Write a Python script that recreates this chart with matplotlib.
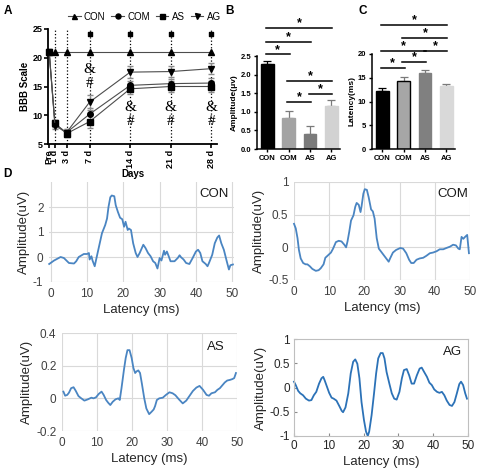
import numpy as np
import matplotlib
matplotlib.use("Agg")
import matplotlib.pyplot as plt

plt.rcParams['font.family'] = ['Liberation Sans', 'DejaVu Sans']

# ---------------- data ----------------
# A: BBB score over days
days = [0, 1, 3, 7, 14, 21, 28]
day_labels = ["Pre", "1 d", "3 d", "7 d", "14 d", "21 d", "28 d"]
bbb_con = [21, 21, 21, 21, 21, 21, 21]
bbb_com = [21, 8.5, 7.0, 10.2, 15.2, 15.5, 15.6]
bbb_as = [21, 8.6, 6.8, 8.9, 14.6, 15.0, 15.0]
bbb_ag = [21, 8.2, 7.0, 12.3, 17.5, 17.6, 18.1]
err_com = [0.3, 0.6, 0.6, 1.0, 0.8, 0.8, 0.8]
err_as = [0.3, 0.6, 0.6, 1.2, 0.9, 0.9, 0.9]
err_ag = [0.3, 0.6, 0.6, 1.3, 1.0, 0.9, 0.9]
sig_days = [7, 14, 21, 28]
sq_level = [24.2, 24.2, 24.2, 24.2]
amp_level = [18.0, 11.4, 11.4, 11.4]
hash_level = [15.6, 8.9, 8.9, 8.9]

# B / C: amplitude and latency
groups = ["CON", "COM", "AS", "AG"]
amp_mean = [2.28, 0.83, 0.40, 1.16]
amp_err = [0.09, 0.18, 0.22, 0.15]
lat_mean = [12.3, 14.4, 16.0, 13.3]
lat_err = [0.45, 0.7, 0.65, 0.45]
amp_sig = [(0, 1, 2.55), (0, 2, 2.88), (0, 3, 3.25), (1, 3, 1.83), (2, 3, 1.48), (1, 2, 1.27)]
lat_sig = [(0, 1, 17.1), (1, 2, 18.4), (0, 2, 20.7), (2, 3, 20.7), (1, 3, 23.4), (0, 3, 26.2)]

# D: example waveforms
con_t = [-0.45, 0.9, 2.7, 3.6, 5.0, 6.4, 7.0, 7.7, 9.1, 10.0, 10.5, 10.7, 11.2, 11.5, 12.1, 12.5,
         13.2, 14.1, 15.0, 15.5, 15.9, 16.4, 16.8, 17.5, 17.9, 18.5, 19.1, 19.7, 20.2, 20.6, 21.2,
         21.5, 22.1, 22.7, 23.4, 23.9, 24.5, 25.5, 26.1, 26.8, 27.5, 28.2, 28.8, 29.4, 30.0, 30.5,
         31.2, 31.5, 32.0, 32.5, 33.0, 34.1, 35.0, 35.5, 35.9, 36.6, 37.3, 38.2, 39.1, 40.0, 40.6,
         41.2, 41.8, 42.7, 43.2, 43.6, 44.5, 45.2, 45.9, 46.4, 47.0, 47.7, 48.5, 49.1, 49.5, 50.2]
con_v = [-0.28, -0.14, 0.0, -0.04, -0.24, -0.26, -0.17, 0.0, 0.12, 0.12, 0.16, -0.1, 0.03, -0.14,
         -0.37, -0.1, 0.36, 0.95, 1.28, 1.54, 2.0, 2.39, 2.46, 2.43, 2.07, 1.8, 1.57, 1.51, 1.21,
         1.41, 1.08, 1.14, 1.08, 0.55, 0.16, 0.0, 0.16, 0.49, 0.36, 0.16, 0.03, -0.17, -0.24, -0.46,
         -0.04, -0.14, 0.25, 0.09, 0.22, 0.03, -0.17, -0.17, -0.04, 0.07, -0.01, -0.1, -0.24, -0.28,
         -0.04, 0.22, 0.29, 0.16, -0.17, -0.28, -0.37, -0.24, 0.09, 0.55, 0.78, 0.86, 0.55, 0.29,
         -0.17, -0.5, -0.33, -0.3]

com_t = [0.0, 0.5, 1.0, 1.4, 1.9, 2.6, 3.3, 3.8, 4.5, 5.2, 6.2, 7.0, 7.6, 8.4, 8.9, 9.5, 10.5,
         11.1, 11.9, 12.7, 13.5, 14.3, 14.8, 15.2, 15.7, 16.2, 16.9, 17.4, 17.8, 18.4, 18.9, 19.2,
         19.7, 20.1, 20.7, 21.2, 21.9, 22.4, 22.9, 23.5, 24.1, 24.8, 25.5, 26.2, 26.9, 27.3, 28.1,
         29.0, 30.2, 31.0, 31.9, 32.7, 33.3, 34.0, 34.8, 35.7, 36.7, 37.6, 38.6, 39.5, 40.5, 41.4,
         42.4, 43.3, 44.3, 45.2, 46.0, 46.7, 47.1, 47.6, 48.1, 48.6, 49.2, 49.7]
com_v = [0.36, 0.29, 0.14, -0.04, -0.17, -0.24, -0.26, -0.26, -0.29, -0.33, -0.36, -0.35, -0.32,
         -0.26, -0.16, -0.13, -0.08, -0.02, 0.08, 0.1, 0.09, 0.04, 0.0, 0.09, 0.24, 0.41, 0.49, 0.62,
         0.68, 0.65, 0.54, 0.63, 0.82, 0.89, 0.88, 0.77, 0.58, 0.55, 0.44, 0.14, -0.02, -0.07, -0.12,
         -0.17, -0.22, -0.17, -0.08, -0.04, -0.01, -0.02, -0.09, -0.19, -0.24, -0.24, -0.19, -0.17,
         -0.16, -0.13, -0.09, -0.08, -0.06, -0.03, -0.03, -0.01, 0.01, 0.04, 0.03, -0.02, -0.03,
         0.16, 0.13, 0.16, 0.19, -0.09]

as_t = [0.4, 0.9, 1.5, 2.0, 2.6, 3.3, 3.9, 4.7, 5.5, 6.4, 7.4, 8.4, 9.0, 9.7, 10.5, 11.3, 11.9,
        12.6, 13.2, 13.8, 14.5, 15.3, 16.1, 16.5, 17.0, 17.7, 18.2, 18.7, 19.3, 19.9, 20.4, 20.9,
        21.3, 21.8, 22.3, 22.8, 23.5, 24.1, 24.9, 25.6, 26.2, 26.6, 27.1, 27.8, 28.8, 29.7, 30.7,
        31.6, 32.4, 33.4, 34.5, 35.5, 36.4, 37.4, 38.4, 39.3, 40.3, 41.3, 42.0, 42.7, 43.7, 44.4,
        45.1, 45.9, 46.5, 47.2, 48.0, 48.7, 49.2, 49.7]
as_v = [0.041, 0.016, 0.021, 0.035, 0.062, 0.068, 0.047, 0.014, 0.0, -0.014, -0.006, 0.004, 0.0,
        0.006, 0.027, 0.041, 0.021, -0.01, -0.027, -0.041, -0.021, -0.006, 0.0, -0.01, 0.062, 0.175,
        0.247, 0.295, 0.295, 0.247, 0.186, 0.155, 0.165, 0.171, 0.155, 0.093, 0.0, -0.062, -0.097,
        -0.082, -0.068, -0.047, -0.01, 0.0, 0.004, 0.021, 0.037, 0.031, 0.019, -0.006, -0.031,
        -0.014, 0.014, 0.045, 0.066, 0.076, 0.052, 0.021, 0.016, 0.031, 0.037, 0.052, 0.062, 0.082,
        0.097, 0.109, 0.113, 0.118, 0.124, 0.155]

ag_t = [0.0, 0.5, 1.2, 1.8, 2.6, 3.4, 4.3, 5.0, 5.7, 6.4, 7.2, 7.9, 8.4, 8.8, 9.5, 10.1, 10.8,
        11.4, 12.2, 13.0, 13.7, 14.1, 14.8, 15.6, 16.3, 17.0, 17.6, 18.2, 18.8, 19.4, 20.1, 20.7,
        21.2, 21.6, 22.3, 23.0, 23.6, 24.2, 24.9, 25.5, 26.0, 26.6, 27.4, 28.1, 28.8, 29.5, 30.3,
        31.0, 31.6, 32.4, 33.1, 33.8, 34.5, 35.3, 36.1, 36.7, 37.4, 38.2, 38.9, 39.6, 40.3, 41.1,
        41.8, 42.5, 43.2, 43.9, 44.7, 45.4, 46.1, 46.8, 47.5, 48.0, 48.6, 49.2, 49.7]
ag_v = [0.12, 0.05, -0.07, -0.12, -0.16, -0.23, -0.27, -0.26, -0.16, -0.09, 0.08, 0.19, 0.22, 0.15,
        0.01, -0.11, -0.21, -0.23, -0.27, -0.38, -0.48, -0.51, -0.41, -0.12, 0.29, 0.53, 0.58, 0.49,
        0.19, -0.30, -0.67, -0.91, -1.0, -0.91, -0.57, -0.12, 0.29, 0.60, 0.71, 0.71, 0.60, 0.32,
        0.08, -0.12, -0.23, -0.25, -0.09, 0.19, 0.36, 0.38, 0.25, 0.08, 0.08, 0.25, 0.39, 0.41, 0.32,
        0.22, 0.10, 0.05, -0.04, -0.09, -0.11, -0.09, -0.16, -0.27, -0.36, -0.38, -0.30, -0.12,
        0.07, 0.12, 0.05, -0.12, -0.23]

W, H = 480, 474
fig = plt.figure(figsize=(W / 100, H / 100), dpi=100)


def rect(left, top, right, bottom):
    # pixel box -> figure fraction
    return [left / W, 1 - bottom / H, (right - left) / W, (bottom - top) / H]


# ---------------- A ----------------
axA = fig.add_axes(rect(48, 29, 217, 144))
for d in days[1:]:
    axA.plot([d, d], [5, 25], ls=':', color='k', lw=0.9, zorder=1)
series = [(bbb_con, None, '^', 'CON'), (bbb_com, err_com, 'o', 'COM'),
          (bbb_as, err_as, 's', 'AS'), (bbb_ag, err_ag, 'v', 'AG')]
for vals, err, mk, lab in series:
    if err is not None:
        axA.errorbar(days, vals, yerr=err, fmt='none', ecolor='#8c8c8c', elinewidth=0.8,
                     capsize=2.5, zorder=2, clip_on=False)
    axA.plot(days, vals, color='#4d4d4d', lw=0.8, marker=mk, mfc='k', mec='k', ms=4,
             label=lab, zorder=3, clip_on=False)
axA.scatter(sig_days, sq_level, marker='s', color='k', s=9, zorder=3)
for d, ya, yh in zip(sig_days, amp_level, hash_level):
    axA.text(d, ya, "&", ha='center', va='center', fontsize=11, family='Liberation Serif')
    axA.text(d, yh, "#", ha='center', va='center', fontsize=11, family='Liberation Serif')
axA.set_xlim(-0.2, 29)
axA.set_ylim(5, 25)
axA.set_yticks([5, 10, 15, 20, 25])
axA.set_xticks(days)
axA.set_xticklabels(day_labels, rotation=90, fontsize=6.5, fontweight='bold')
axA.tick_params(axis='y', labelsize=6.5, width=1.2, length=3, pad=1)
axA.tick_params(axis='x', width=1.2, length=3, pad=1)
for lab in axA.get_yticklabels():
    lab.set_fontweight('bold')
axA.spines['top'].set_visible(False)
axA.spines['right'].set_visible(False)
axA.spines['left'].set_linewidth(1.3)
axA.spines['bottom'].set_linewidth(1.3)
axA.set_ylabel("BBB Scale", fontsize=7, fontweight='bold', labelpad=2)
axA.set_xlabel("Days", fontsize=7, fontweight='bold', labelpad=1)
axA.legend(loc='lower center', bbox_to_anchor=(0.57, 1.03), ncol=4, frameon=False,
           fontsize=7, handlelength=1.3, columnspacing=0.6, handletextpad=0.35,
           borderaxespad=0, markerscale=0.9)


def bar_panel(ax, means, errs, sigs, ylim, yticks, ylabel, colors, edges, star_off):
    x = np.arange(len(means))
    ax.bar(x, means, width=0.6, color=colors, edgecolor=edges, linewidth=1.0, zorder=2)
    for xi, m, e, c in zip(x, means, errs, colors):
        ax.errorbar(xi, m, yerr=[[0], [e]], fmt='none', ecolor='k' if c == '#000000' else '#7a7a7a',
                    elinewidth=0.9, capsize=3, capthick=0.9, zorder=1)
    for i, j, y in sigs:
        ax.plot([i - 0.05, j + 0.05], [y, y], color='k', lw=1.1, clip_on=False)
        ax.text((i + j) / 2, y + star_off, "*", ha='center', va='center', fontsize=9,
                fontweight='bold')
    ax.set_xlim(-0.47, 3.4)
    ax.set_ylim(*ylim)
    ax.set_yticks(yticks)
    ax.set_xticks(x)
    ax.set_xticklabels(groups, fontsize=5.5, fontweight='bold')
    ax.tick_params(labelsize=5.5, width=1.0, length=2.5, pad=1.5)
    for lab in ax.get_yticklabels():
        lab.set_fontweight('bold')
    ax.spines['top'].set_visible(False)
    ax.spines['right'].set_visible(False)
    ax.spines['left'].set_linewidth(1.1)
    ax.spines['bottom'].set_linewidth(1.1)
    ax.set_ylabel(ylabel, fontsize=6, fontweight='bold', labelpad=2)


# ---------------- B ----------------
axB = fig.add_axes(rect(257, 56, 340, 149))
bar_panel(axB, amp_mean, amp_err, amp_sig, (0, 2.5), [0, 0.5, 1.0, 1.5, 2.0, 2.5],
          "Amplitude(\u03bcv)", ['#000000', '#a3a3a3', '#7b7b7b', '#d2d2d2'],
          ['#000000', '#a3a3a3', '#7b7b7b', '#d2d2d2'], 0.12)
axB.set_yticklabels(["0.0", "0.5", "1.0", "1.5", "2.0", "2.5"])

# ---------------- C ----------------
axC = fig.add_axes(rect(372, 54, 455, 149))
bar_panel(axC, lat_mean, lat_err, lat_sig, (0, 20), [0, 5, 10, 15, 20],
          "Latency(ms)", ['#000000', '#a6a6a6', '#808080', '#d9d9d9'],
          ['#000000', '#000000', '#808080', '#d9d9d9'], 1.0)

# ---------------- D ----------------
excel_blue = '#4a85c2'


def wave_panel(box, t, v, xlim, ylim, yticks, ytlabels, name, name_pos, matlab=False):
    ax = fig.add_axes(rect(*box))
    ax.plot(t, v, color='#2c72b7' if matlab else excel_blue, lw=1.3, clip_on=False)
    ax.set_xlim(*xlim)
    ax.set_ylim(*ylim)
    ax.set_xticks([0, 10, 20, 30, 40, 50])
    ax.set_yticks(yticks)
    ax.set_yticklabels(ytlabels)
    if matlab:
        for s in ax.spines.values():
            s.set_color('#bfbfbf')
            s.set_linewidth(0.8)
        ax.tick_params(direction='in', length=2, color='#8c8c8c', labelsize=8.5,
                       labelcolor='#262626', pad=3)
    else:
        for s in ax.spines.values():
            s.set_visible(False)
        ax.grid(True, color='#d9d9d9', lw=0.8)
        ax.tick_params(length=0, labelsize=8.5, labelcolor='#404040', pad=4)
    ax.set_xlabel("Latency (ms)", fontsize=9.5, color='#262626', labelpad=3)
    ax.set_ylabel("Amplitude(uV)", fontsize=9.5, color='#262626', labelpad=2)
    ax.text(name_pos[0], name_pos[1], name, transform=ax.transAxes, ha='center', va='center',
            fontsize=9.5, color='#1a1a1a')
    return ax


wave_panel((49, 182, 234, 282), con_t, con_v, (-0.5, 50.5), (-1, 3), [-1, 0, 1, 2],
           ["-1", "0", "1", "2"], "CON", (0.89, 0.88))
wave_panel((294, 182, 470, 280), com_t, com_v, (0, 50), (-0.5, 1), [-0.5, 0, 0.5, 1],
           ["-0.5", "0", "0.5", "1"], "COM", (0.90, 0.88))
wave_panel((62, 333, 237, 431), as_t, as_v, (0, 50), (-0.2, 0.4), [-0.2, 0, 0.2, 0.4],
           ["-0.2", "0", "0.2", "0.4"], "AS", (0.88, 0.86))
wave_panel((294, 339, 468, 436), ag_t, ag_v, (0, 50), (-1, 1), [-1, -0.5, 0, 0.5, 1],
           ["-1", "-0.5", "0", "0.5", "1"], "AG", (0.91, 0.87), matlab=True)

# panel letters
for letter, px, py in [("A", 8, 11), ("B", 229, 11), ("C", 363, 11), ("D", 7, 174)]:
    fig.text(px / W, 1 - py / H, letter, fontsize=8.5, fontweight='bold', ha='center', va='center')

plt.savefig("out.png", dpi=100)
